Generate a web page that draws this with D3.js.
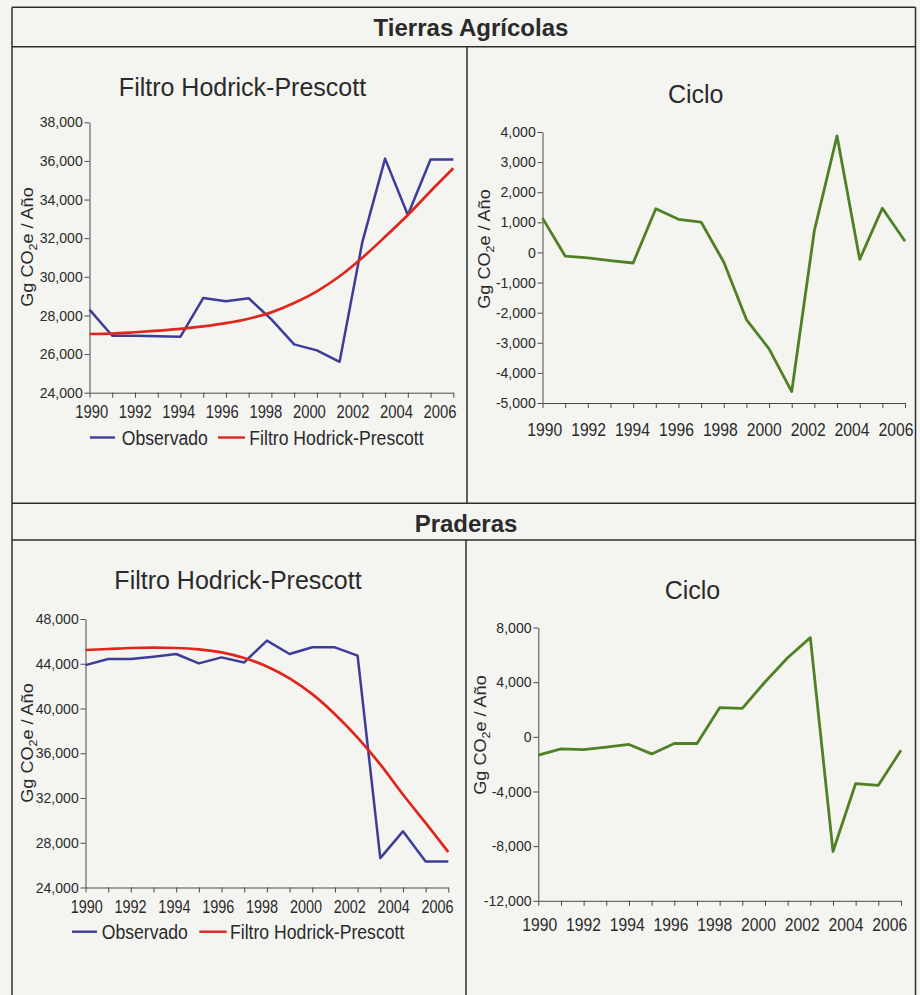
<!DOCTYPE html>
<html><head><meta charset="utf-8">
<script src="https://cdn.jsdelivr.net/npm/d3@7/dist/d3.min.js"></script>
<style>
body{margin:0;background:#f4f4f1;}
svg{display:block;}
text{font-family:"Liberation Sans", Arial, Helvetica, sans-serif; fill:#2a2a2a;}
</style></head><body>
<svg id="chart" width="920" height="995"></svg>
<script>
// ---------- data ----------
const years = [1990,1991,1992,1993,1994,1995,1996,1997,1998,1999,2000,2001,2002,2003,2004,2005,2006];
const yearLabels = [1990,1992,1994,1996,1998,2000,2002,2004,2006];

const agriObserved = [28300,26950,26950,26920,26900,28900,28730,28890,27800,26500,26190,25600,31800,36120,33200,36070,36070];
const agriTrend    = [27040,27060,27130,27210,27300,27430,27600,27830,28160,28640,29250,30030,30990,32070,33200,34430,35620];
const agriCycle    = [1140,-120,-180,-270,-350,1450,1100,1010,-320,-2230,-3200,-4620,730,3870,-230,1470,370];

const pradObserved = [43880,44420,44420,44630,44870,44030,44570,44120,46070,44870,45470,45470,44720,26630,29020,26330,26330];
const pradTrend    = [45230,45320,45410,45440,45410,45290,45020,44510,43760,42690,41280,39490,37400,35000,32310,29770,27170];
const pradCycle    = [-1340,-880,-930,-760,-560,-1250,-490,-490,2130,2080,4010,5790,7260,-8390,-3420,-3550,-980];

const agriHPTicks    = [24000,26000,28000,30000,32000,34000,36000,38000];
const agriCycleTicks = [-5000,-4000,-3000,-2000,-1000,0,1000,2000,3000,4000];
const pradHPTicks    = [24000,28000,32000,36000,40000,44000,48000];
const pradCycleTicks = [-12000,-8000,-4000,0,4000,8000];

const sectionTitles = ["Tierras Agrícolas","Praderas"];
const hpTitle = "Filtro Hodrick-Prescott";
const cycleTitle = "Ciclo";
const legendLabels = ["Observado","Filtro Hodrick-Prescott"];

// ---------- styles ----------
const BLUE = "#3d3d99", RED = "#e0261c", GREEN = "#4f8024", AXIS = "#4a4a4a", FRAME = "#2e2e2e";

const svg = d3.select("#chart");
svg.append("rect").attr("width",920).attr("height",995).attr("fill","#f4f4f1");

const fmt = d3.formatLocale({decimal:".", thousands:",", grouping:[3], currency:["$",""], minus:"-"}).format(",");

// ---------- frame ----------
const frame = svg.append("g").attr("stroke",FRAME).attr("stroke-width",1.5).attr("fill","none");
[[12,7.3,915.5,7.3],[12,46.7,915.5,46.7],[12,503.3,915.5,503.3],[12,540,915.5,540],
 [12,7.3,12,995],[915.5,7.3,915.5,995],[467,46.7,467,503.3],[466,540,466,995]]
 .forEach(l => frame.append("line").attr("x1",l[0]).attr("y1",l[1]).attr("x2",l[2]).attr("y2",l[3]));

svg.append("text").attr("x",471).attr("y",36).attr("text-anchor","middle")
  .style("font-size","24px").style("font-weight","bold").text(sectionTitles[0]);
svg.append("text").attr("x",466).attr("y",531.7).attr("text-anchor","middle")
  .style("font-size","24px").style("font-weight","bold").text(sectionTitles[1]);

// ---------- panels ----------
function yLabel(g, bx, cy){
  const t = g.append("text").attr("text-anchor","middle")
    .attr("transform",`translate(${bx},${cy}) rotate(-90) scale(1.13,1)`)
    .style("font-size","16px");
  t.append("tspan").text("Gg CO");
  t.append("tspan").attr("dy",3.5).style("font-size","11px").text("2");
  t.append("tspan").attr("dy",-3.5).text("e / Año");
}

function drawPanel(cfg){
  const g = svg.append("g");
  const x = d3.scaleLinear().domain([years[0], years[years.length-1]]).range([cfg.x0, cfg.x1]);
  const xl = d3.scaleLinear().domain([years[0], years[years.length-1]]).range([cfg.l0, cfg.l1]);
  const y = d3.scaleLinear().domain([cfg.ticks[0], cfg.ticks[cfg.ticks.length-1]]).range([cfg.yBot, cfg.yTop]);

  const gy = g.append("g").attr("transform",`translate(${cfg.x0},0)`)
    .call(d3.axisLeft(y).tickValues(cfg.ticks).tickFormat(fmt).tickSize(5).tickPadding(2).tickSizeOuter(0));
  gy.style("color",AXIS);
  gy.selectAll("text").style("font-size","14.5px").attr("transform","scale(0.97,1)");

  // tick marks for every year
  const gx = g.append("g").attr("transform",`translate(0,${cfg.yBot})`)
    .call(d3.axisBottom(x).tickValues(years).tickFormat("").tickSize(5).tickSizeOuter(0));
  gx.style("color",AXIS);

  // year labels (every second year)
  const gl = g.append("g").attr("transform",`translate(0,${cfg.yBot})`)
    .call(d3.axisBottom(xl).tickValues(yearLabels).tickFormat(d => String(d)).tickSize(0).tickPadding(cfg.xPad));
  gl.select(".domain").remove();
  gl.style("color",AXIS);
  gl.selectAll("text").style("font-size","18.5px").attr("transform",`scale(${cfg.xScale},1)`);

  cfg.series.forEach(s => {
    const line = d3.line().x((d,i) => x(years[i])).y(d => y(d))
      .curve(s.smooth ? d3.curveMonotoneX : d3.curveLinear);
    g.append("path").datum(s.values).attr("fill","none").attr("stroke",s.color)
      .attr("stroke-width",s.width).attr("stroke-linejoin","round").attr("d",line);
  });

  g.append("text").attr("x",cfg.titleX).attr("y",cfg.titleY).attr("text-anchor","middle")
    .style("font-size","25px").text(cfg.title);
  yLabel(g, cfg.labelX, cfg.labelY);

  if (cfg.legend){
    const L = cfg.legend;
    [[L.b0,L.b1,BLUE,L.t0,legendLabels[0]],[L.r0,L.r1,RED,L.t1,legendLabels[1]]].forEach(e => {
      g.append("line").attr("x1",e[0]).attr("x2",e[1]).attr("y1",L.y).attr("y2",L.y)
        .attr("stroke",e[2]).attr("stroke-width",2.4);
      g.append("text").attr("transform",`translate(${e[3]},${L.y}) scale(0.84,1)`)
        .attr("dy","0.36em").style("font-size","21px").text(e[4]);
    });
  }
}

drawPanel({x0:89.5, x1:453.3, l0:91.2, l1:439.5, yTop:122.3, yBot:392.7, ticks:agriHPTicks, xPad:12, xScale:0.80,
  title:hpTitle, titleX:242.5, titleY:96, labelX:33, labelY:247,
  series:[{values:agriObserved,color:BLUE,width:2.5},{values:agriTrend,color:RED,width:2.7,smooth:true}],
  legend:{y:437.5,b0:90,b1:115,t0:121.7,r0:218,r1:245,t1:249.3}});

drawPanel({x0:542.5, x1:905, l0:544.2, l1:895.5, yTop:132, yBot:403, ticks:agriCycleTicks, xPad:20, xScale:0.85,
  title:cycleTitle, titleX:695.7, titleY:102.7, labelX:490, labelY:249,
  series:[{values:agriCycle,color:GREEN,width:2.8}]});

drawPanel({x0:85.5, x1:448.3, l0:86.2, l1:437, yTop:619, yBot:887.5, ticks:pradHPTicks, xPad:12, xScale:0.78,
  title:hpTitle, titleX:238, titleY:589.3, labelX:33, labelY:743,
  series:[{values:pradObserved,color:BLUE,width:2.5},{values:pradTrend,color:RED,width:2.7,smooth:true}],
  legend:{y:931.7,b0:72,b1:97,t0:101.7,r0:199.3,r1:226.7,t1:230}});

drawPanel({x0:538.3, x1:901, l0:539.2, l1:889.2, yTop:627.5, yBot:900.8, ticks:pradCycleTicks, xPad:17, xScale:0.85,
  title:cycleTitle, titleX:692.5, titleY:599.3, labelX:486, labelY:735,
  series:[{values:pradCycle,color:GREEN,width:2.8}]});
</script>
</body></html>
